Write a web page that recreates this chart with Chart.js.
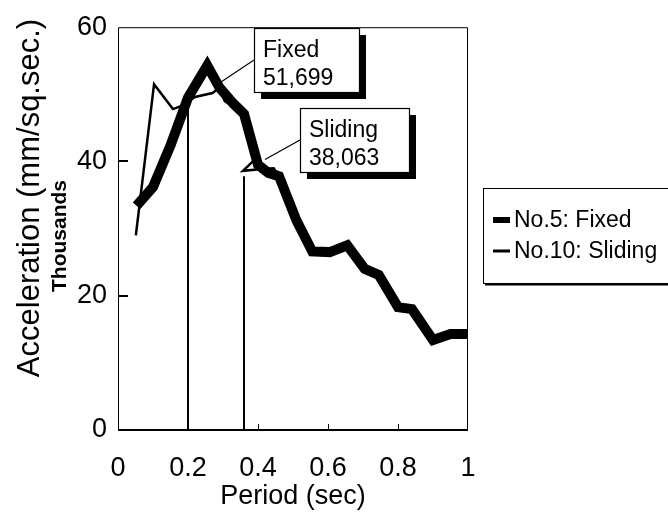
<!DOCTYPE html>
<html>
<head>
<meta charset="utf-8">
<script src="https://cdn.jsdelivr.net/npm/chart.js@4"></script>
<style>
  html, body { margin: 0; padding: 0; background: #fff; }
</style>
</head>
<body>
<canvas id="spectrumChart" width="668" height="513"></canvas>
<script>
// values (acceleration in thousands of mm/sq.sec.)
const fixedPeriod = [0.053, 0.1, 0.15, 0.2, 0.255, 0.29, 0.33, 0.36, 0.40, 0.43, 0.46, 0.51, 0.555, 0.605, 0.655, 0.705, 0.745, 0.80, 0.84, 0.90, 0.95, 1.0];
const fixedAccel = [33.4, 36.2, 42.4, 49.5, 54.3, 51.0, 48.6, 47.1, 39.5, 38.3, 37.8, 31.2, 26.6, 26.5, 27.5, 24.0, 23.1, 18.3, 18.0, 13.4, 14.3, 14.3];

const slidingPeriod = [0.051, 0.103, 0.157, 0.183, 0.22, 0.27, 0.29, 0.305, 0.33, 0.36, 0.395, 0.357, 0.42, 0.445, 0.47, 0.51, 0.555, 0.605, 0.655, 0.705, 0.745, 0.80, 0.84, 0.90, 0.95, 1.0];
const slidingAccel = [29.0, 51.5, 47.8, 48.3, 49.6, 50.2, 51.0, 49.0, 48.2, 46.8, 40.5, 38.6, 38.9, 39.0, 37.0, 31.2, 26.6, 26.5, 27.5, 24.0, 23.1, 18.3, 18.0, 13.4, 14.3, 14.3];

const seriesLabels = ['No.5: Fixed', 'No.10: Sliding'];

const xTicks = [0, 0.2, 0.4, 0.6, 0.8, 1];
const yTicks = [0, 20, 40, 60];

// callouts
const calloutTitles = ['Fixed', 'Sliding'];
const calloutValues = ['51,699', '38,063'];
const calloutPeriod = [0.29, 0.42];
const calloutAccel = [51.7, 40.3];
const dropPeriod = [0.2, 0.36];
const dropAccel = [49.8, 37.8];

const FONT = "'Liberation Sans', Arial, Helvetica, sans-serif";

const toPoints = (xs, ys) => xs.map((x, i) => ({ x: x, y: ys[i] }));

const datasets = [
  {
    label: seriesLabels[1],
    data: toPoints(slidingPeriod, slidingAccel),
    borderColor: '#000',
    borderWidth: 2.5,
    pointRadius: 0,
    tension: 0,
    order: 0,
    legendWidth: 3,
  },
  {
    label: seriesLabels[0],
    data: toPoints(fixedPeriod, fixedAccel),
    borderColor: '#000',
    borderWidth: 10,
    borderJoinStyle: 'miter',
    borderCapStyle: 'butt',
    pointRadius: 0,
    tension: 0,
    order: 1,
    legendWidth: 6,
  },
];
dropPeriod.forEach((p, i) => {
  datasets.push({
    label: 'drop' + i,
    data: [{ x: p, y: 0 }, { x: p, y: dropAccel[i] }],
    borderColor: '#000',
    borderWidth: 2,
    pointRadius: 0,
    order: 2,
    isDrop: true,
  });
});

// frame, inside ticks, axis title, callouts and legend
const decorPlugin = {
  id: 'decor',
  afterDraw(chart) {
    const { ctx, chartArea: a, scales: { x, y } } = chart;
    ctx.save();

    // plot frame
    ctx.strokeStyle = '#000';
    ctx.lineWidth = 1;
    ctx.beginPath();
    ctx.moveTo(a.left + 0.5, a.bottom);
    ctx.lineTo(a.left + 0.5, a.top + 0.5);
    ctx.lineTo(a.right - 0.5, a.top + 0.5);
    ctx.lineTo(a.right - 0.5, a.bottom);
    ctx.stroke();
    ctx.lineWidth = 2;
    ctx.beginPath();
    ctx.moveTo(a.left, a.bottom);
    ctx.lineTo(a.right, a.bottom);
    ctx.stroke();

    // inside tick marks
    ctx.lineWidth = 2;
    yTicks.slice(1, -1).forEach(v => {
      const py = Math.round(y.getPixelForValue(v));
      ctx.beginPath();
      ctx.moveTo(a.left, py);
      ctx.lineTo(a.left + 10, py);
      ctx.stroke();
    });
    ctx.lineWidth = 1;
    xTicks.slice(1, -1).forEach(v => {
      const px = Math.round(x.getPixelForValue(v)) + 0.5;
      ctx.beginPath();
      ctx.moveTo(px, a.bottom);
      ctx.lineTo(px, a.bottom - 6);
      ctx.stroke();
    });

    // y axis titles
    ctx.fillStyle = '#000';
    ctx.textAlign = 'center';
    ctx.textBaseline = 'alphabetic';
    ctx.save();
    ctx.translate(39, 198);
    ctx.rotate(-Math.PI / 2);
    ctx.font = '31px ' + FONT;
    ctx.fillText('Acceleration (mm/sq.sec.)', 0, 0);
    ctx.restore();
    ctx.save();
    ctx.translate(66, 236);
    ctx.rotate(-Math.PI / 2);
    ctx.font = 'bold 21px ' + FONT;
    ctx.fillText('Thousands', 0, 0);
    ctx.restore();

    // callout boxes
    const boxes = [
      { left: 254, top: 28, w: 105, h: 64 },
      { left: 300, top: 108, w: 109, h: 64 },
    ];
    boxes.forEach((b, i) => {
      const tx = x.getPixelForValue(calloutPeriod[i]);
      const ty = y.getPixelForValue(calloutAccel[i]);
      ctx.strokeStyle = '#000';
      ctx.lineWidth = 1.2;
      ctx.beginPath();
      ctx.moveTo(b.left, b.top + b.h / 2);
      ctx.lineTo(tx, ty);
      ctx.stroke();
      ctx.fillStyle = '#000';
      ctx.fillRect(b.left + 7, b.top + 7, b.w, b.h);
      ctx.fillStyle = '#fff';
      ctx.fillRect(b.left, b.top, b.w, b.h);
      ctx.strokeRect(b.left + 0.5, b.top + 0.5, b.w, b.h);
      ctx.fillStyle = '#000';
      ctx.font = '23px ' + FONT;
      ctx.textAlign = 'left';
      ctx.textBaseline = 'alphabetic';
      ctx.fillText(calloutTitles[i], b.left + 9, b.top + 29);
      ctx.fillText(calloutValues[i], b.left + 9, b.top + 57);
    });

    // legend
    const lx = 483, ly = 188, lw = 190, lh = 95;
    ctx.fillStyle = '#fff';
    ctx.fillRect(lx, ly, lw, lh);
    ctx.strokeStyle = '#000';
    ctx.lineWidth = 1;
    ctx.strokeRect(lx + 0.5, ly + 0.5, lw, lh);
    ctx.lineWidth = 2;
    ctx.beginPath();
    ctx.moveTo(lx + 2, ly + lh + 1.5);
    ctx.lineTo(lx + lw, ly + lh + 1.5);
    ctx.stroke();
    const items = chart.data.datasets.filter(d => !d.isDrop)
      .sort((p, q) => seriesLabels.indexOf(p.label) - seriesLabels.indexOf(q.label));
    ctx.font = '23px ' + FONT;
    ctx.textAlign = 'left';
    ctx.textBaseline = 'middle';
    items.forEach((d, i) => {
      const cy = 220 + i * 31;
      ctx.fillStyle = '#000';
      ctx.fillRect(493, cy - d.legendWidth / 2, 17, d.legendWidth);
      ctx.fillText(d.label, 514, cy + 1);
    });

    ctx.restore();
  },
};

const ctx = document.getElementById('spectrumChart').getContext('2d');

new Chart(ctx, {
  type: 'line',
  data: { datasets: datasets },
  options: {
    responsive: false,
    animation: false,
    devicePixelRatio: 1,
    layout: { padding: { top: 20, right: 200, bottom: 0, left: 0 } },
    plugins: {
      legend: { display: false },
      tooltip: { enabled: false },
    },
    scales: {
      x: {
        type: 'linear',
        min: 0,
        max: 1,
        afterBuildTicks: scale => { scale.ticks = xTicks.map(v => ({ value: v })); },
        afterFit: scale => { scale.height = 83; },
        grid: { display: false, drawTicks: false },
        border: { display: false },
        ticks: {
          color: '#000',
          padding: 22,
          maxRotation: 0,
          autoSkip: false,
          font: { family: FONT, size: 27 },
          callback: v => String(v),
        },
        title: {
          display: true,
          text: 'Period (sec)',
          color: '#000',
          padding: 0,
          font: { family: FONT, size: 27 },
        },
      },
      y: {
        type: 'linear',
        min: 0,
        max: 60,
        afterBuildTicks: scale => { scale.ticks = yTicks.map(v => ({ value: v })); },
        afterFit: scale => { scale.width = 118; },
        grid: { display: false, drawTicks: false },
        border: { display: false },
        ticks: {
          color: '#000',
          padding: 11,
          font: { family: FONT, size: 27 },
          callback: v => String(v),
        },
      },
    },
  },
  plugins: [decorPlugin],
});
</script>
</body>
</html>
